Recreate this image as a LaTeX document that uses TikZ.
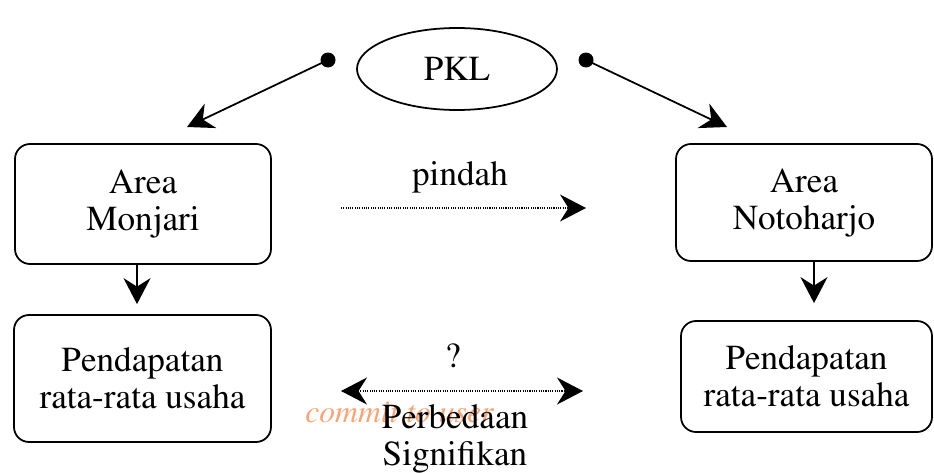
\documentclass[tikz,border=0pt]{standalone}
\usepackage[T1]{fontenc}
\usepackage{mathptmx}
\usepackage{tikz}
\usetikzlibrary{shapes.geometric,arrows.meta,positioning}
\definecolor{watermark}{rgb}{0.98, 0.64, 0.45}

\tikzset{
	kotak/.style={draw,rounded corners=0.3cm,line width=1pt,align=center,font=\fontsize{20}{21}\selectfont},
	panah/.style={line width=1pt,-{Stealth[length=0.52cm,width=0.54cm,inset=0.17cm]}},
	titik/.style={circle,fill=black,minimum size=0.3cm,inner sep=0pt},
	teks/.style={font=\fontsize{20}{21}\selectfont,align=center,inner sep=0pt}
}

\begin{document}
\begin{tikzpicture}

	\useasboundingbox (0,0) rectangle (18.68,-9.44);

	\node[ellipse,draw,line width=1pt,minimum width=4cm,minimum height=1.64cm,inner sep=0pt,font=\fontsize{20}{21}\selectfont] (pkl) at (9.14,-1.38) {PKL};

	\node[titik] (dl) at (6.56,-1.2) {};
	\node[titik] (dr) at (11.72,-1.2) {};
	\coordinate (tl) at (3.74,-2.54);
	\coordinate (tr) at (14.54,-2.54);

	\node[kotak,minimum width=5.12cm,minimum height=2.4cm] (mon) at (2.86,-4.08) {Area\\Monjari};
	\node[kotak,minimum width=5.14cm,minimum height=2.54cm] (pendL) at (2.85,-7.57) {Pendapatan\\rata-rata usaha};
	\node[kotak,minimum width=5.12cm,minimum height=2.34cm] (noto) at (16.08,-4.05) {Area\\Notoharjo};
	\node[kotak,minimum width=5.02cm,minimum height=2.22cm] (pendR) at (16.13,-7.53) {Pendapatan\\rata-rata usaha};

	\draw[panah] (dl.center) -- (tl);
	\draw[panah] (dr.center) -- (tr);

	\draw[panah] ([xshift=-0.12cm]mon.south) -- ([xshift=-0.11cm,yshift=0.2cm]pendL.north);
	\draw[panah] ([xshift=0.2cm]noto.south) -- ([xshift=0.15cm,yshift=0.34cm]pendR.north);

	% pindah
	\coordinate (p1) at (6.82,-4.16);
	\coordinate (p2) at (11.72,-4.16);
	\node[teks,anchor=base] (pindah) at (9.2,-3.7) {pindah};
	\draw[panah,line width=0.6pt,dash pattern=on 0.6pt off 0.7pt] (p1) -- (p2);

	% perbedaan
	\coordinate (q1) at (6.82,-7.82);
	\coordinate (q2) at (11.66,-7.82);
	\node[teks,anchor=base] (tanya) at (9.06,-7.34) {?};
	\node[anchor=base west,inner sep=0pt,text=watermark,font=\fontsize{18}{18}\selectfont\itshape] (wm) at (6.1,-8.44) {commit to user};
	\draw[line width=0.6pt,dash pattern=on 0.6pt off 0.7pt,{Stealth[length=0.52cm,width=0.54cm,inset=0.17cm]}-{Stealth[length=0.52cm,width=0.54cm,inset=0.17cm]}] (q1) -- (q2);
	\node[teks] (beda) at (9.1,-8.77) {Perbedaan\\Signifikan};

\end{tikzpicture}
\end{document}
